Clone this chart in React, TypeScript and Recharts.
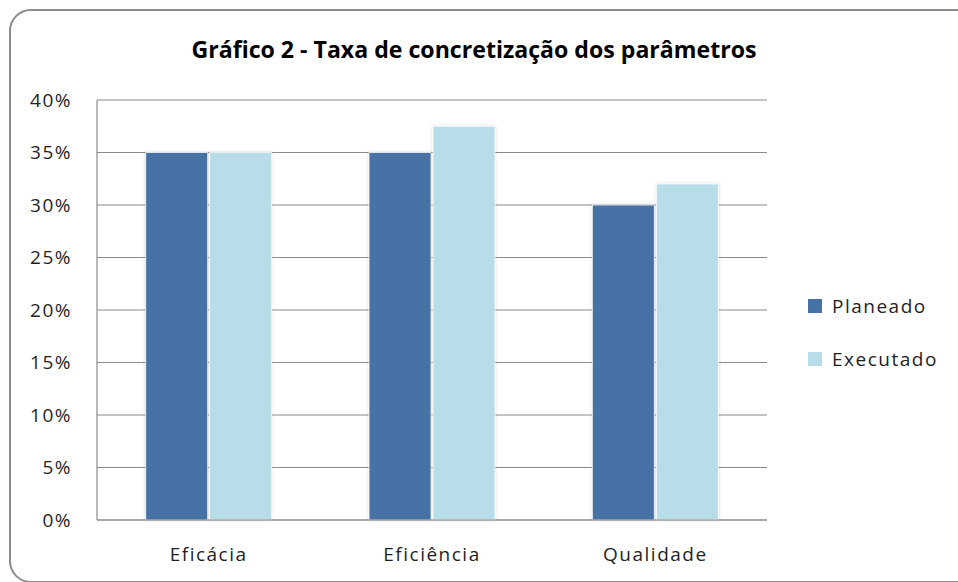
import { BarChart, Bar, XAxis, YAxis, CartesianGrid } from "recharts";

const categories = ["Eficácia", "Eficiência", "Qualidade"];
const planeado = [0.35, 0.35, 0.3];
const executado = [0.35, 0.375, 0.32];
const yTicks = [0, 0.05, 0.1, 0.15, 0.2, 0.25, 0.3, 0.35, 0.4];

const SERIES = [
  { key: "planeado", name: "Planeado", color: "#4672A5" },
  { key: "executado", name: "Executado", color: "#B7DDE8" },
];

const data = categories.map((name, i) => ({
  name,
  planeado: planeado[i],
  executado: executado[i],
}));

const FONT = "'Open Sans', sans-serif";
const TEXT = "#1f1f1f";
const GRID = "#8a8a8a";

// Square swatches stacked on the right, like the spreadsheet legend
function LegendBox() {
  return (
    <div
      style={{
        position: "absolute",
        left: 808,
        top: 279,
        fontFamily: FONT,
        fontSize: 19,
        letterSpacing: 1.5,
        color: TEXT,
      }}
    >
      {SERIES.map((s) => (
        <div key={s.key} style={{ display: "flex", alignItems: "center", height: 53 }}>
          <span style={{ width: 14, height: 14, background: s.color, marginRight: 10, display: "inline-block" }} />
          {s.name}
        </div>
      ))}
    </div>
  );
}

export default function App() {
  return (
    <div style={{ position: "absolute", left: 0, top: 0, width: 958, height: 582, overflow: "hidden", background: "#fff" }}>
      <div
        style={{
          position: "absolute",
          left: 9,
          top: 9,
          width: 980,
          height: 570,
          border: "2px solid #8c8c8c",
          borderRadius: 22,
        }}
      />
      <svg width={958} height={80} style={{ position: "absolute", left: 0, top: 0 }}>
        <text
          x={474}
          y={58}
          textAnchor="middle"
          fontFamily={FONT}
          fontWeight={700}
          fontSize={23}
          fill="#000"
          textLength={565}
          lengthAdjust="spacingAndGlyphs"
        >
          Gráfico 2 - Taxa de concretização dos parâmetros
        </text>
      </svg>
      <div style={{ position: "absolute", left: 0, top: 0, letterSpacing: 1.5 }}>
        <BarChart
          width={958}
          height={582}
          data={data}
          margin={{ top: 100, right: 191, left: 20, bottom: 0 }}
          barCategoryGap="21.8%"
          barGap={2}
        >
          <defs>
            <filter id="barShadow" x="-10%" y="-5%" width="120%" height="110%">
              <feDropShadow dx="0" dy="0" stdDeviation="1.5" floodColor="#000" floodOpacity="0.18" />
            </filter>
          </defs>
          <CartesianGrid stroke={GRID} strokeWidth={1.2} vertical={false} />
          <XAxis
            dataKey="name"
            height={62}
            tickSize={0}
            tickMargin={28}
            axisLine={{ stroke: GRID, strokeWidth: 1.2 }}
            tickLine={false}
            tick={{ fontSize: 19, fill: TEXT, fontFamily: FONT }}
          />
          <YAxis
            width={77}
            domain={[0, 0.4]}
            ticks={yTicks}
            tickSize={0}
            tickMargin={25}
            axisLine={{ stroke: GRID, strokeWidth: 1.2 }}
            tickLine={false}
            tickFormatter={(v: number) => `${Math.round(v * 100)}%`}
            tick={{ fontSize: 19, fill: TEXT, fontFamily: FONT }}
          />
          {SERIES.map((s) => (
            <Bar
              key={s.key}
              dataKey={s.key}
              name={s.name}
              fill={s.color}
              stroke="#fff"
              strokeWidth={0.8}
              filter="url(#barShadow)"
              isAnimationActive={false}
            />
          ))}
        </BarChart>
      </div>
      <LegendBox />
    </div>
  );
}
